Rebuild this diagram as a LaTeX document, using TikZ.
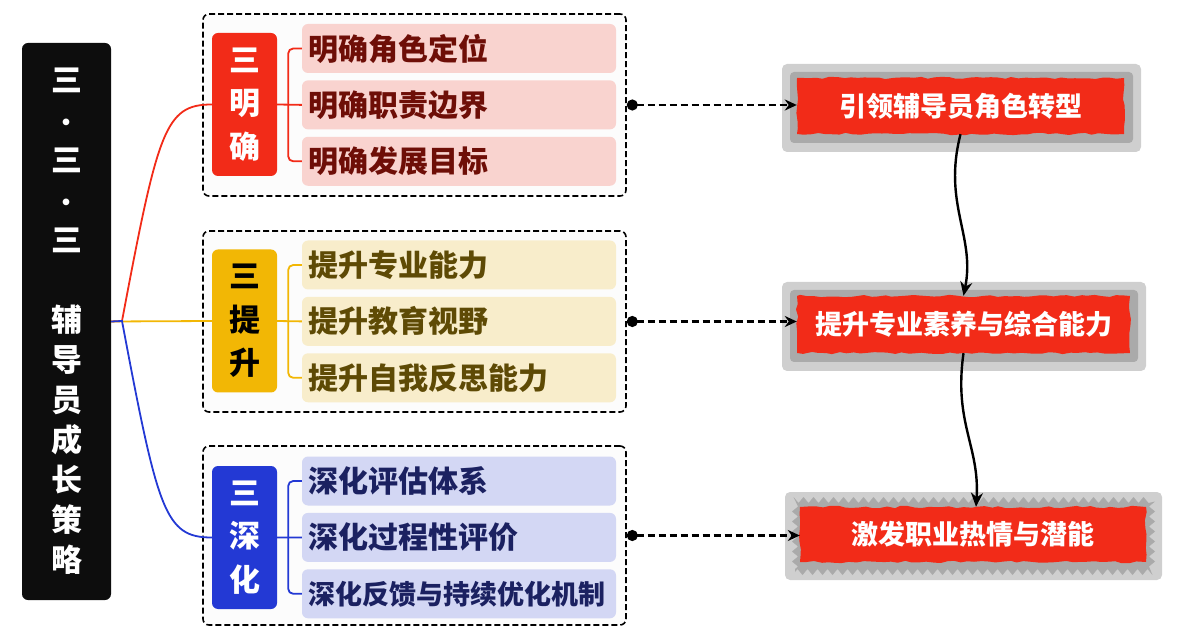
\documentclass[tikz,border=0pt]{standalone}
\usepackage{fontspec}
\setmainfont{Noto Sans CJK SC}
\usepackage{xcolor}
\usetikzlibrary{positioning,arrows.meta,decorations.pathmorphing}

\definecolor{titleblack}{HTML}{0D0D0D}
\definecolor{mred}{HTML}{F22B18}
\definecolor{myellow}{HTML}{F2B705}
\definecolor{mblue}{HTML}{2339D4}
\definecolor{redfill}{HTML}{F9D3CF}
\definecolor{redtext}{HTML}{6E0E07}
\definecolor{yellowfill}{HTML}{F8EDCB}
\definecolor{yellowtext}{HTML}{5E4A05}
\definecolor{bluefill}{HTML}{D3D7F4}
\definecolor{bluetext}{HTML}{1B2161}
\definecolor{outergray}{HTML}{CFCFCF}
\definecolor{innergray}{HTML}{AAAAAA}
\definecolor{groupfill}{HTML}{FCFCFC}

\begin{document}
\begin{tikzpicture}[x=1pt, y=1pt,
  titlebox/.style={fill=titleblack, rounded corners=6pt, minimum width=89pt, minimum height=557pt, align=center, text=white, font=\fontsize{31}{40}\selectfont\bfseries, inner sep=0pt},
  groupbox/.style={draw, dash pattern=on 6pt off 3pt, line width=1.6pt, rounded corners=6pt, fill=groupfill, minimum width=423pt},
  catbox/.style={rounded corners=6pt, minimum width=65pt, minimum height=143pt, align=center, font=\fontsize{31}{43.5}\selectfont\bfseries, inner sep=0pt},
  itembox/.style={rounded corners=6pt, text width=302pt, inner xsep=6pt, inner ysep=0pt, minimum height=49pt, align=left, font=\fontsize{30}{32}\selectfont\bfseries},
  itemA/.style={itembox, fill=redfill, text=redtext},
  itemB/.style={itembox, fill=yellowfill, text=yellowtext},
  itemC/.style={itembox, fill=bluefill, text=bluetext},
  goalbox/.style={fill=mred, text=white, font=\fontsize{27}{30}\selectfont\bfseries, inner sep=0pt, decorate, decoration={random steps, segment length=7pt, amplitude=1.2pt}},
  goalframe/.style={fill=outergray, rounded corners=5pt},
  goalband/.style={fill=innergray, rounded corners=4pt},
  roughband/.style={fill=innergray, decorate, decoration={zigzag, segment length=10pt, amplitude=3pt}},
  branch/.style={line width=1.8pt},
  linkarr/.style={line width=2.5pt, dash pattern=on 7pt off 4pt, {Circle[length=11pt]}-{Stealth[length=12pt,width=11pt]}},
  flowarr/.style={line width=2.4pt, -{Stealth[length=14pt,width=12pt]}}
]
\useasboundingbox (0,0) rectangle (1182,640);

% dashed groups
\node[groupbox, minimum height=182pt] (grpA) at (414.5,535) {};
\node[groupbox, minimum height=181pt] (grpB) at (414.5,318.5) {};
\node[groupbox, minimum height=179pt] (grpC) at (414.5,104.5) {};

\node[titlebox] (title) at (66.5,318.5) {三\\{\fontsize{24}{40}\selectfont ·}\\三\\{\fontsize{24}{40}\selectfont ·}\\三\\[40pt]辅\\导\\员\\成\\长\\策\\略};
\coordinate (jn) at (122,319);

\node[catbox, fill=mred, text=white] (mingque) at (244.5,535.5) {三\\明\\确};
\node[catbox, fill=myellow, text=black] (tisheng) at (244.5,319) {三\\提\\升};
\node[catbox, fill=mblue, text=white] (shenhua) at (244.5,102.5) {三\\深\\化};

\node[itemA] (mq1) at (459,591.5) {明确角色定位};
\node[itemA, below=7pt of mq1] (mq2) {明确职责边界};
\node[itemA, below=7pt of mq2] (mq3) {明确发展目标};

\node[itemB] (ts1) at (459,375) {提升专业能力};
\node[itemB, below=7pt of ts1] (ts2) {提升教育视野};
\node[itemB, below=7pt of ts2] (ts3) {提升自我反思能力};

\node[itemC] (sh1) at (459,159) {深化评估体系};
\node[itemC, below=7pt of sh1] (sh2) {深化过程性评价};
\node[itemC, below=7pt of sh2, font=\fontsize{27}{32}\selectfont\bfseries] (sh3) {深化反馈与持续优化机制};

% branches from the title
\draw[branch, mred] (title.east) -- (jn) .. controls (158,510) and (165,535.5) .. (mingque.west);
\draw[branch, myellow] (title.east) -- (tisheng.west);
\draw[branch, mblue] (title.east) -- (jn) .. controls (158,128) and (165,102.5) .. (shenhua.west);

% brackets inside groups
\draw[branch, mred, rounded corners=5pt] (mq1.west) -| ([xshift=11pt]mingque.east) |- (mq3.west);
\draw[branch, mred] (mingque.east) -- (mq2.west);
\draw[branch, myellow, rounded corners=5pt] (ts1.west) -| ([xshift=11pt]tisheng.east) |- (ts3.west);
\draw[branch, myellow] (tisheng.east) -- (ts2.west);
\draw[branch, mblue, rounded corners=5pt] (sh1.west) -| ([xshift=11pt]shenhua.east) |- (sh3.west);
\draw[branch, mblue] (shenhua.east) -- (sh2.west);

% goals
\node[goalframe, minimum width=359pt, minimum height=88pt] (frameA) at (961.5,532) {};
\node[goalband, minimum width=343pt, minimum height=71pt] (bandA) at (961.5,532.5) {};
\node[goalbox, minimum width=327pt, minimum height=56pt] (goalA) at (960.5,534) {引领辅导员角色转型};

\node[goalframe, minimum width=364pt, minimum height=89pt] (frameB) at (964,313.5) {};
\node[goalband, minimum width=348pt, minimum height=72pt] (bandB) at (964,314) {};
\node[goalbox, minimum width=333pt, minimum height=57pt] (goalB) at (963.5,315.5) {提升专业素养与综合能力};

\node[goalframe, minimum width=377pt, minimum height=88pt] (frameC) at (973.5,104) {};
\node[roughband, minimum width=357pt, minimum height=72pt] (bandC) at (973.5,104) {};
\node[goalbox, minimum width=346pt, minimum height=55pt] (goalC) at (973,105.5) {激发职业热情与潜能};

% links and flow
\draw[linkarr] (grpA.east) -- (grpA.east -| goalA.west);
\draw[linkarr] (grpB.east) -- (grpB.east -| goalB.west);
\draw[linkarr] (grpC.east) -- (grpC.east -| goalC.west);

\draw[flowarr] (goalA.south) .. controls +(-18,-70) and +(12,60) .. (goalB.north);
\draw[flowarr] (goalB.south) .. controls +(-10,-70) and +(4,60) .. ([xshift=3pt]goalC.north);
\end{tikzpicture}
\end{document}
